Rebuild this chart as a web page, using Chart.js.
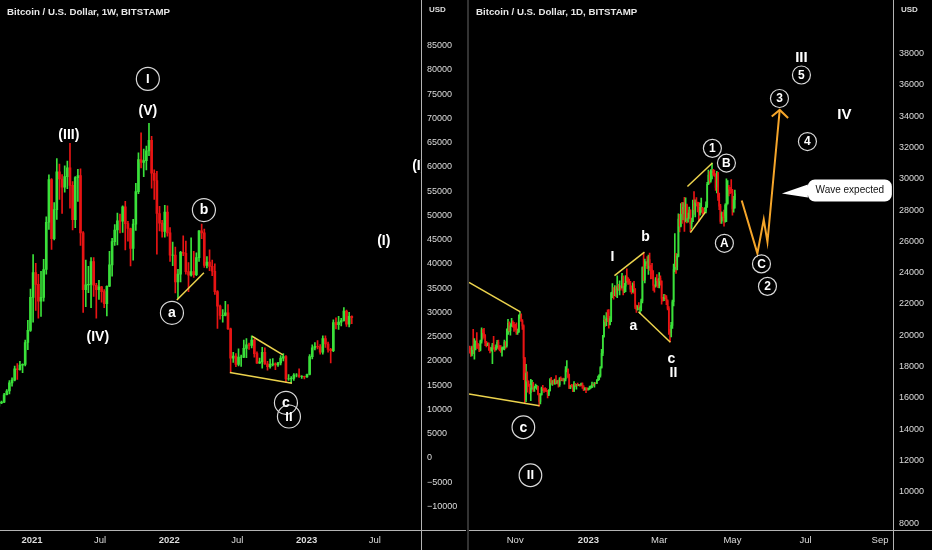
<!DOCTYPE html>
<html>
<head>
<meta charset="utf-8">
<script src="https://cdn.jsdelivr.net/npm/chart.js@4.4.0/dist/chart.umd.min.js"></script>
<style>
  html, body { margin: 0; padding: 0; background: #000; }
  #wrap { position: relative; width: 932px; height: 550px; overflow: hidden; background: #000; }
  canvas { position: absolute; top: 0; }
  #cw { left: 0; }
  #cd { left: 466px; }
</style>
</head>
<body>
<div id="wrap">
  <canvas id="cw" width="466" height="550"></canvas>
  <canvas id="cd" width="466" height="550"></canvas>
</div>
<script>
// ---- weekly BTC/USD (left panel), one candle per week starting 2020-10-05 ----
const wFirstWeek = '2020-10-05';
const wFirstOpen = 10670;
const wClose = [11370,11500,13030,13800,15480,16060,18400,18180,19150,19280,23800,26300,33100,
  38200,35800,32300,33100,38850,48600,57400,45200,51200,59000,57500,55800,58000,59800,56200,49100,57800,58200,46400,34700,35700,35800,40500,35600,34700,35300,34300,31800,35400,39800,44600,47000,48900,48800,51750,48300,47300,43200,48200,54900,61500,60900,61300,63300,65500,58700,57200,50400,48400,46700,50700,46400,
  41800,41800,36300,37900,42400,42200,38400,37700,38400,37800,41300,46800,46400,39700,40400,39500,38500,34300,31300,29400,29400,29900,26600,20600,21000,19300,20800,20800,22600,23300,23200,24300,21500,19550,19800,21800,19400,18800,19300,19400,19200,19600,20600,20900,16300,16300,16400,17100,17100,16800,16850,16700,
  17200,20900,22700,23000,22900,21800,24600,23500,22400,22100,27900,27500,28000,28300,30300,27600,29200,28900];
const wHigh = [11490,11720,13350,14100,15960,16500,18950,19480,19920,19420,24300,28400,34800,
  41950,40100,37850,38500,40950,49700,58350,57600,52650,61700,60600,58400,60200,61200,64850,57000,58000,59500,59600,46650,40800,39500,41300,41300,36000,36600,35400,34700,35500,42600,45300,48100,50500,50300,52000,52900,48800,47400,49200,56600,62900,67000,63700,64300,69000,66300,59400,59100,51900,49000,52100,52000,
  47500,44500,43500,38900,42600,45800,44700,40300,45400,42600,42300,46900,48200,47200,41500,42900,40800,40000,34500,31500,30600,32300,31600,26800,21800,21500,22500,21200,24300,24600,23700,25200,24500,21900,20600,22800,22700,19900,20400,20500,19600,19700,21100,21500,21100,17200,16800,17400,17400,18400,17000,16900,
  17300,21300,23300,23800,24200,23400,25200,25200,23900,22600,28500,28900,29200,28800,31000,30500,30000,29300];
const wLow = [10530,11200,11400,12980,13200,14800,15900,16200,18100,17600,19000,22350,26100,
  28000,30400,28800,29200,32300,37900,47100,43000,44950,49200,53300,50400,54800,55500,51500,47000,47500,52900,43800,30000,31200,34100,31000,33300,28800,32700,32100,31000,29300,35300,37500,43800,43900,46400,46500,42900,44700,39600,40800,46900,54500,59800,58000,59400,62300,55600,53300,42000,46800,45500,45500,45700,
  40500,39650,34000,32900,36300,41700,37900,34300,37500,37200,37600,40500,45200,39300,39200,38600,37600,33700,26700,28600,28000,29300,26500,17600,19700,18800,19000,18900,20700,20700,22400,22700,20800,19500,19500,18500,19300,18100,18500,19000,18200,18900,19200,20000,15600,16000,15500,16000,16700,16600,16400,16300,
  16600,17100,20400,22300,22500,21400,21400,22800,21800,19600,21900,26600,26500,27200,28200,27100,27000,27700];
const wTickDates = ['2021-01-01','2021-07-01','2022-01-01','2022-07-01','2023-01-01','2023-07-01'];
const wTickLabels = ['2021','Jul','2022','Jul','2023','Jul'];
const wPriceTicks = [-10000,-5000,0,5000,10000,15000,20000,25000,30000,35000,40000,45000,50000,55000,60000,65000,70000,75000,80000,85000];

// ---- daily BTC/USD (right panel), one candle per day starting 2022-09-24 ----
const dFirstDay = '2022-09-24';
const dFirstOpen = 19290;
const dClose = [18920,18800,19230,19080,19420,19590,19420,
  19310,19060,19630,20340,20160,19960,19530,19420,19450,19130,19060,19150,19380,19180,19070,19270,19550,19330,19120,19040,19170,19210,19570,19330,20090,20770,20290,20600,20820,20630,20490,
  20480,20160,20210,21150,21300,20910,20600,18540,15880,17590,17070,16810,16330,16620,16900,16660,16690,16700,16720,16280,15780,16210,16610,16600,16520,16460,16440,16220,16440,17160,
  16980,17090,16900,17130,16970,17090,16840,17230,17130,17130,17090,17210,17800,17810,17360,16630,16780,16740,16440,16900,16820,16830,16780,16840,16830,16920,16700,16540,16630,16600,16540,
  16610,16670,16680,16850,16830,16950,16940,17120,17180,17440,17940,18850,19930,20960,20880,21170,21130,20680,21070,22670,22780,22710,22920,22630,23060,23010,23080,23030,23750,22840,23130,
  23730,23490,23430,23330,22940,22760,23250,22960,21800,21630,21860,21780,21790,22200,24330,23520,24570,24630,24290,24840,24450,24190,23950,23190,23160,23560,23490,23140,
  23640,23470,22360,22350,22430,22410,22200,21710,20360,20150,20630,22140,24200,24750,24380,25050,27420,26970,28040,27770,28170,27310,28330,27490,27490,27990,27130,27260,28350,28030,28470,
  28450,28200,27790,28170,28170,28030,27920,27940,28330,29650,30240,29890,30390,30480,30320,30310,29450,30390,28820,28250,27280,27820,27590,27520,28300,28420,29470,29340,29250,29230,
  28070,28670,29030];
const dHigh = [19310,19190,19310,20380,19790,19640,20180,
  19480,19400,19700,20470,20360,20450,20050,19610,19520,19520,19250,19220,19490,19930,19220,19390,19670,19700,19350,19350,19250,19260,19700,19600,20410,21020,20860,20740,21080,20930,20820,
  20700,20790,20390,21300,21470,21370,21000,20670,18590,18150,17660,17090,16880,17190,17130,16990,16750,16880,16810,16760,16300,16270,16690,16800,16610,16660,16600,16480,16540,17240,
  17320,17100,17150,17200,17420,17110,17140,17300,17350,17230,17270,17240,18000,18390,17850,17530,16800,16860,16830,17050,16910,16870,16950,16860,16860,16950,16970,16780,16660,16640,16640,
  16630,16760,16770,17010,16880,16990,16970,17170,17400,17490,18000,19110,19990,21260,21040,21450,21620,21650,21190,22750,23300,23050,23170,23120,23790,23260,23480,23160,23950,23800,23320,
  23820,24250,23690,23590,23440,23160,23350,23450,22990,21930,21900,22090,21880,22320,24380,25250,24860,24710,25020,25130,25250,24470,24600,24130,23220,23680,23880,23600,
  24000,23790,23480,22420,22620,22580,22540,22270,21840,20370,20830,22250,24550,26500,25240,25190,27760,27720,28420,28500,28470,28810,28780,28380,27800,28190,28020,27490,28640,29180,28660,
  28790,28510,28490,28440,28770,28180,28090,28150,28520,29770,30560,30450,30580,31000,30600,30550,30310,30480,30410,29080,28370,27890,27830,28000,28390,30000,29880,29580,29450,29950,
  29330,28880,29270];
const dLow = [18860,18650,18680,18820,18470,19060,19160,
  19160,18950,19000,19500,19760,19870,19330,19250,19330,19030,18870,18980,18190,19100,18970,19060,19160,19100,19000,18900,18660,19100,19070,19160,19240,20060,20220,20000,20560,20520,20250,
  20350,20060,20050,20180,21080,20880,20380,17170,15680,15760,16360,16730,16260,15820,16550,16420,16420,16620,16550,16190,15480,15620,16170,16460,16350,16410,16400,16000,16140,16440,
  16860,16800,16880,16880,16900,16910,16690,16740,17090,17100,17080,16870,17080,17660,17280,16590,16590,16700,16400,16400,16740,16560,16760,16780,16730,16780,16600,16470,16500,16340,16490,
  16500,16550,16600,16650,16760,16690,16910,16910,17100,17150,17320,17900,18700,19880,20570,20620,20870,20450,20660,20870,22400,22300,22530,22470,22400,22860,22580,22880,23020,22580,22730,
  22790,23380,23250,23270,22770,22640,22760,22680,21700,21460,21600,21640,21380,21550,22060,23500,23350,24450,24250,23880,24150,23600,23620,22870,22750,23070,23140,23040,
  23030,23200,21980,22180,22210,22300,21950,21620,20050,19570,19900,20440,21880,24060,23950,24180,25010,26600,26920,27150,27380,26630,27240,27170,27230,27440,26620,26800,27250,27720,27560,
  28260,27880,27280,27680,27850,27740,27790,27870,27810,28170,29620,29700,29780,29980,30210,30140,29260,29100,28620,28030,27140,27150,27330,26970,27220,27250,28380,28900,29050,29100,
  27680,27870,28120];
const dTickDates = ['2022-11-01','2023-01-01','2023-03-01','2023-05-01','2023-07-01','2023-09-01'];
const dTickLabels = ['Nov','2023','Mar','May','Jul','Sep'];
const dPriceTicks = [8000,10000,12000,14000,16000,18000,20000,22000,24000,26000,28000,30000,32000,34000,36000,38000];

// ---- wave-count drawings, [day, price] in each panel's own units ----
const wTrend = [
  [[385, 32550], [457, 38200]],
  [[585, 25090], [667, 21260]],
  [[526, 17630], [691, 15410]]
];
const wMarks = [
  {t: 'I', x: 308, y: 78140, r: 11.5, s: 13},
  {t: '(V)', x: 308, y: 71690, s: 14},
  {t: '(III)', x: 98, y: 66620, s: 14},
  {t: '(IV)', x: 175, y: 25090, s: 14},
  {t: 'b', x: 457, y: 51110, r: 11.5, s: 14},
  {t: 'a', x: 372, y: 29930, r: 11.5, s: 14},
  {t: '(I)', x: 935, y: 44860, s: 14},
  {t: '(I)', x: 1028, y: 60210, s: 14},
  {t: 'c', x: 675, y: 11380, r: 11.5, s: 14},
  {t: 'II', x: 683, y: 8550, r: 11.5, s: 13}
];
const dTrend = [
  [[-99.5, 23375], [-56.7, 21500]],
  [[-99.5, 16250], [-40.8, 15500]],
  [[21.7, 23810], [46.7, 25310]],
  [[41.7, 21500], [68.3, 19560]],
  [[82.5, 29500], [103.3, 31000]],
  [[85, 26560], [97.5, 27875]]
];
const dForecast = [[127.75, 28606], [140.8, 25231], [146.1, 27394], [149.2, 25956], [159.4, 34394]];
const dArrow = [[152.75, 33981], [159.4, 34394], [166.4, 33875]];
const dMarks = [
  {t: 'III', x: 177.5, y: 37750, s: 15},
  {t: '5', x: 177.5, y: 36625, r: 9, s: 12},
  {t: '3', x: 159.2, y: 35125, r: 9, s: 12},
  {t: 'IV', x: 213.3, y: 34125, s: 15},
  {t: '4', x: 182.5, y: 32375, r: 9, s: 12},
  {t: '1', x: 103.3, y: 31940, r: 9, s: 12},
  {t: 'B', x: 115, y: 31000, r: 9, s: 12},
  {t: 'A', x: 113.3, y: 25875, r: 9, s: 12},
  {t: 'C', x: 144.2, y: 24560, r: 9, s: 12},
  {t: '2', x: 149.2, y: 23125, r: 9, s: 12},
  {t: 'b', x: 47.5, y: 26310, s: 14},
  {t: 'I', x: 20, y: 25000, s: 14},
  {t: 'a', x: 37.5, y: 20625, s: 14},
  {t: 'c', x: 69.2, y: 18500, s: 14},
  {t: 'II', x: 70.8, y: 17625, s: 14},
  {t: 'c', x: -54.2, y: 14125, r: 11.3, s: 14},
  {t: 'II', x: -48.3, y: 11060, r: 11.3, s: 13}
];
const dCallout = {t: 'Wave expected', x: 161.2, y: 29060};

const GREEN = '#3ae03a', RED = '#e81414', YELLOW = '#ecd34d', ORANGE = '#f5a52a';
const AXIS = '#b3b3b3', TEXT = '#dcdcdc';
const FONT = '"Liberation Sans", Arial, sans-serif';

function dayNum(d, base) {
  return (Date.parse(d) - Date.parse(base)) / 864e5;
}

function candles(days, open0, close, high, low, bodyW) {
  const wick = [], body = [], col = [];
  for (let i = 0; i < close.length; i++) {
    const o = i ? close[i - 1] : open0;
    wick.push({x: days[i], y: [low[i], high[i]]});
    body.push({x: days[i], y: [o, close[i]]});
    col.push(close[i] >= o ? GREEN : RED);
  }
  return [
    {type: 'bar', data: wick, backgroundColor: col, barThickness: 1, grouped: false, order: 3},
    {type: 'bar', data: body, backgroundColor: col, barThickness: bodyW, grouped: false, order: 2}
  ];
}

function seg(points, color, width) {
  return {
    type: 'line', data: points.map(p => ({x: p[0], y: p[1]})),
    borderColor: color, borderWidth: width, pointRadius: 0, fill: false, tension: 0, order: 1
  };
}

function drawMarks(chart, marks) {
  const {ctx, chartArea: a, scales: {x, y}} = chart;
  ctx.save();
  ctx.beginPath();
  ctx.rect(a.left, a.top, a.right - a.left, a.bottom - a.top);
  ctx.clip();
  ctx.textAlign = 'center';
  ctx.textBaseline = 'middle';
  marks.forEach(m => {
    const px = x.getPixelForValue(m.x), py = y.getPixelForValue(m.y);
    if (m.r) {
      ctx.beginPath();
      ctx.arc(px, py, m.r, 0, Math.PI * 2);
      ctx.strokeStyle = '#d8d8d8';
      ctx.lineWidth = 1.2;
      ctx.stroke();
    }
    ctx.fillStyle = '#ffffff';
    ctx.font = 'bold ' + m.s + 'px ' + FONT;
    ctx.fillText(m.t, px, py + 0.5);
  });
  ctx.restore();
}

function drawCallout(chart, c) {
  const {ctx, scales: {x, y}} = chart;
  const tx = x.getPixelForValue(c.x), ty = y.getPixelForValue(c.y);
  const L = tx + 26, R = tx + 110, T = ty - 14, B = ty + 8, rad = 7;
  ctx.save();
  ctx.beginPath();
  ctx.moveTo(L + rad, T);
  ctx.lineTo(R - rad, T);
  ctx.arcTo(R, T, R, T + rad, rad);
  ctx.lineTo(R, B - rad);
  ctx.arcTo(R, B, R - rad, B, rad);
  ctx.lineTo(L + rad, B);
  ctx.arcTo(L, B, L, B - rad, rad);
  ctx.lineTo(L, ty + 4);
  ctx.lineTo(tx, ty);
  ctx.lineTo(L, ty - 9);
  ctx.lineTo(L, T + rad);
  ctx.arcTo(L, T, L + rad, T, rad);
  ctx.closePath();
  ctx.fillStyle = '#ffffff';
  ctx.fill();
  ctx.fillStyle = '#111111';
  ctx.font = '10px ' + FONT;
  ctx.textAlign = 'center';
  ctx.textBaseline = 'middle';
  ctx.fillText(c.t, (L + R) / 2, (T + B) / 2);
  ctx.restore();
}

function decor(title, marks, callout, leftBand) {
  return {
    id: 'decor',
    beforeDraw(chart) {
      const c = chart.ctx;
      c.save();
      c.fillStyle = '#000';
      c.fillRect(0, 0, chart.width, chart.height);
      c.restore();
    },
    afterDatasetsDraw(chart) {
      drawMarks(chart, marks);
      if (callout) drawCallout(chart, callout);
    },
    afterDraw(chart) {
      const c = chart.ctx, a = chart.chartArea;
      c.save();
      c.strokeStyle = AXIS;
      c.lineWidth = 1;
      c.beginPath();
      c.moveTo(Math.round(a.right) + 0.5, 0);
      c.lineTo(Math.round(a.right) + 0.5, chart.height);
      c.moveTo(0, Math.round(a.bottom) + 0.5);
      c.lineTo(chart.width, Math.round(a.bottom) + 0.5);
      c.stroke();
      if (leftBand) {
        c.fillStyle = '#000';
        c.fillRect(0, 0, a.left, chart.height);
        c.fillStyle = '#333333';
        c.fillRect(1, 0, 2, chart.height);
      }
      c.fillStyle = '#e6e6e6';
      c.font = 'bold 9.7px ' + FONT;
      c.textAlign = 'left';
      c.textBaseline = 'middle';
      c.fillText(title, a.left + 7, 12);
      c.fillStyle = TEXT;
      c.font = 'bold 8px ' + FONT;
      c.fillText('USD', a.right + 8, 10);
      c.restore();
    }
  };
}

function options(xMin, xMax, tickDays, tickLabels, yMin, yMax, priceTicks, axisW, padLeft) {
  return {
    responsive: false,
    animation: false,
    events: [],
    layout: {padding: {left: padLeft, right: 0, top: 0, bottom: 0}},
    plugins: {legend: {display: false}, tooltip: {enabled: false}},
    scales: {
      x: {
        type: 'linear', min: xMin, max: xMax, offset: false, bounds: 'data',
        grid: {display: false, drawTicks: false, offset: false},
        border: {display: false},
        afterBuildTicks: s => { s.ticks = tickDays.map(v => ({value: v})); },
        afterFit: s => { s.height = 20; },
        ticks: {
          autoSkip: false, maxRotation: 0, padding: 5, color: TEXT,
          font: c => ({family: FONT, size: 9.5, weight: /^\d{4}$/.test(tickLabels[c.index]) ? 'bold' : 'normal'}),
          callback: (v, i) => tickLabels[i]
        }
      },
      y: {
        type: 'linear', position: 'right', min: yMin, max: yMax, bounds: 'data', beginAtZero: false,
        grid: {display: false, drawTicks: false},
        border: {display: false},
        afterBuildTicks: s => { s.ticks = priceTicks.map(v => ({value: v})); },
        afterFit: s => { s.width = axisW; },
        ticks: {
          padding: 6, color: TEXT, font: {family: FONT, size: 9},
          callback: v => (v < 0 ? '\u2212' + Math.abs(v) : String(v))
        }
      }
    }
  };
}

// left: weekly chart
const wBase = '2021-01-01';
const wDays = wClose.map((_, i) => dayNum(wFirstWeek, wBase) + 7 * i);
new Chart(document.getElementById('cw'), {
  type: 'bar',
  data: {
    datasets: candles(wDays, wFirstOpen, wClose, wHigh, wLow, 2)
      .concat(wTrend.map(p => seg(p, YELLOW, 1.5)))
  },
  options: options(-85, 1034, wTickDates.map(d => dayNum(d, wBase)), wTickLabels,
    -14845, 92056, wPriceTicks, 45, 0),
  plugins: [decor('Bitcoin / U.S. Dollar, 1W, BITSTAMP', wMarks, null, false)]
});

// right: daily chart
const dBase = '2023-01-01';
const dDays = dClose.map((_, i) => dayNum(dFirstDay, dBase) + i);
new Chart(document.getElementById('cd'), {
  type: 'bar',
  data: {
    datasets: candles(dDays, dFirstOpen, dClose, dHigh, dLow, 1)
      .concat(dTrend.map(p => seg(p, YELLOW, 1.5)))
      .concat([seg(dForecast, ORANGE, 2), seg(dArrow, ORANGE, 2)])
  },
  options: options(-99.5, 253.8, dTickDates.map(d => dayNum(d, dBase)), dTickLabels,
    7563, 40688, dPriceTicks, 39, 3),
  plugins: [decor('Bitcoin / U.S. Dollar, 1D, BITSTAMP', dMarks, dCallout, true)]
});
</script>
</body>
</html>
